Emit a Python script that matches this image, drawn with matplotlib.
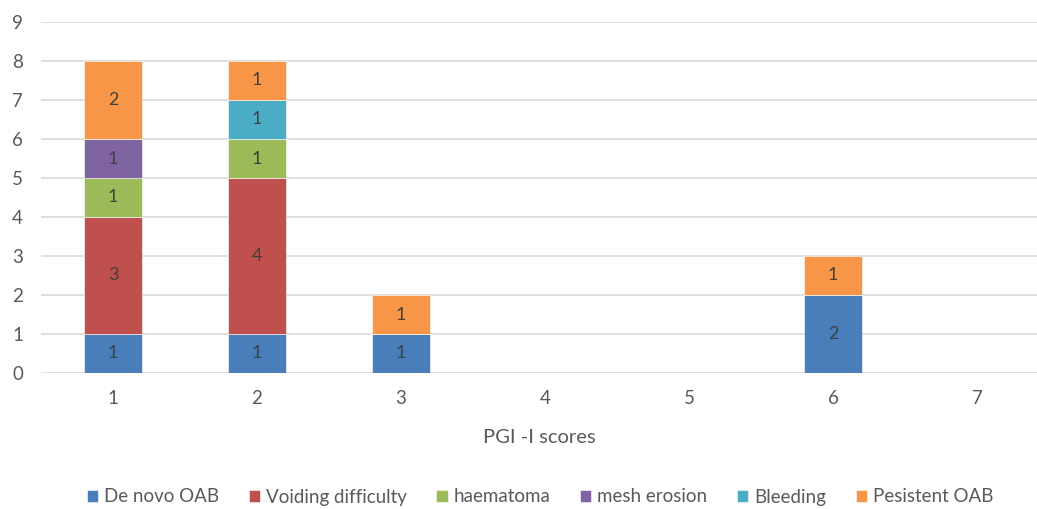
import matplotlib.pyplot as plt
import numpy as np

plt.rcParams['font.family'] = ['Lato', 'DejaVu Sans']

scores = [1, 2, 3, 4, 5, 6, 7]
series_names = ['De novo OAB', 'Voiding difficulty', 'haematoma',
                'mesh erosion', 'Bleeding', 'Pesistent OAB']
de_novo = [1, 1, 1, 0, 0, 2, 0]
voiding = [3, 4, 0, 0, 0, 0, 0]
haematoma = [1, 1, 0, 0, 0, 0, 0]
mesh_erosion = [1, 0, 0, 0, 0, 0, 0]
bleeding = [0, 1, 0, 0, 0, 0, 0]
persistent = [2, 1, 1, 0, 0, 1, 0]
colors = ['#4A7EBB', '#C0504D', '#9BBB59', '#8064A2', '#4BACC6', '#F79646']

text_col = '#595959'

fig = plt.figure(figsize=(10.37, 5.09), dpi=100)
ax = fig.add_axes([41 / 1037, 136 / 509, 996 / 1037, 351 / 509])

bottom = np.zeros(len(scores))
for name, vals, c in zip(series_names,
                         [de_novo, voiding, haematoma, mesh_erosion, bleeding, persistent],
                         colors):
    vals = np.array(vals, dtype=float)
    bars = ax.bar(scores, vals, 0.4, bottom=bottom, color=c, label=name,
                  edgecolor='white', linewidth=0.4, zorder=3)
    labels = [str(int(v)) if v > 0 else '' for v in vals]
    ax.bar_label(bars, labels=labels, label_type='center', color='#404040', fontsize=13)
    bottom += vals

ax.set_xlim(0.5, 0.5 + 996 / 144)
ax.set_ylim(0, 9)
ax.set_yticks(range(10))
ax.set_xticks(scores)
ax.yaxis.grid(True, color='#D9D9D9', linewidth=1.2, zorder=0)
ax.set_axisbelow(True)
for s in ax.spines.values():
    s.set_visible(False)
ax.tick_params(length=0, labelsize=13.5, colors=text_col)
ax.tick_params(axis='y', pad=13)
ax.tick_params(axis='x', pad=12)
ax.set_xlabel('PGI -I scores', fontsize=14.5, color=text_col, labelpad=16)

leg = fig.legend(loc='center', bbox_to_anchor=(540 / 1037, 1 - 497 / 509), ncol=6,
                 frameon=False, fontsize=13.5, handlelength=0.6, handleheight=0.6,
                 handletextpad=0.3, columnspacing=1.6)
for t in leg.get_texts():
    t.set_color(text_col)

fig.savefig('out.png', dpi=100)
